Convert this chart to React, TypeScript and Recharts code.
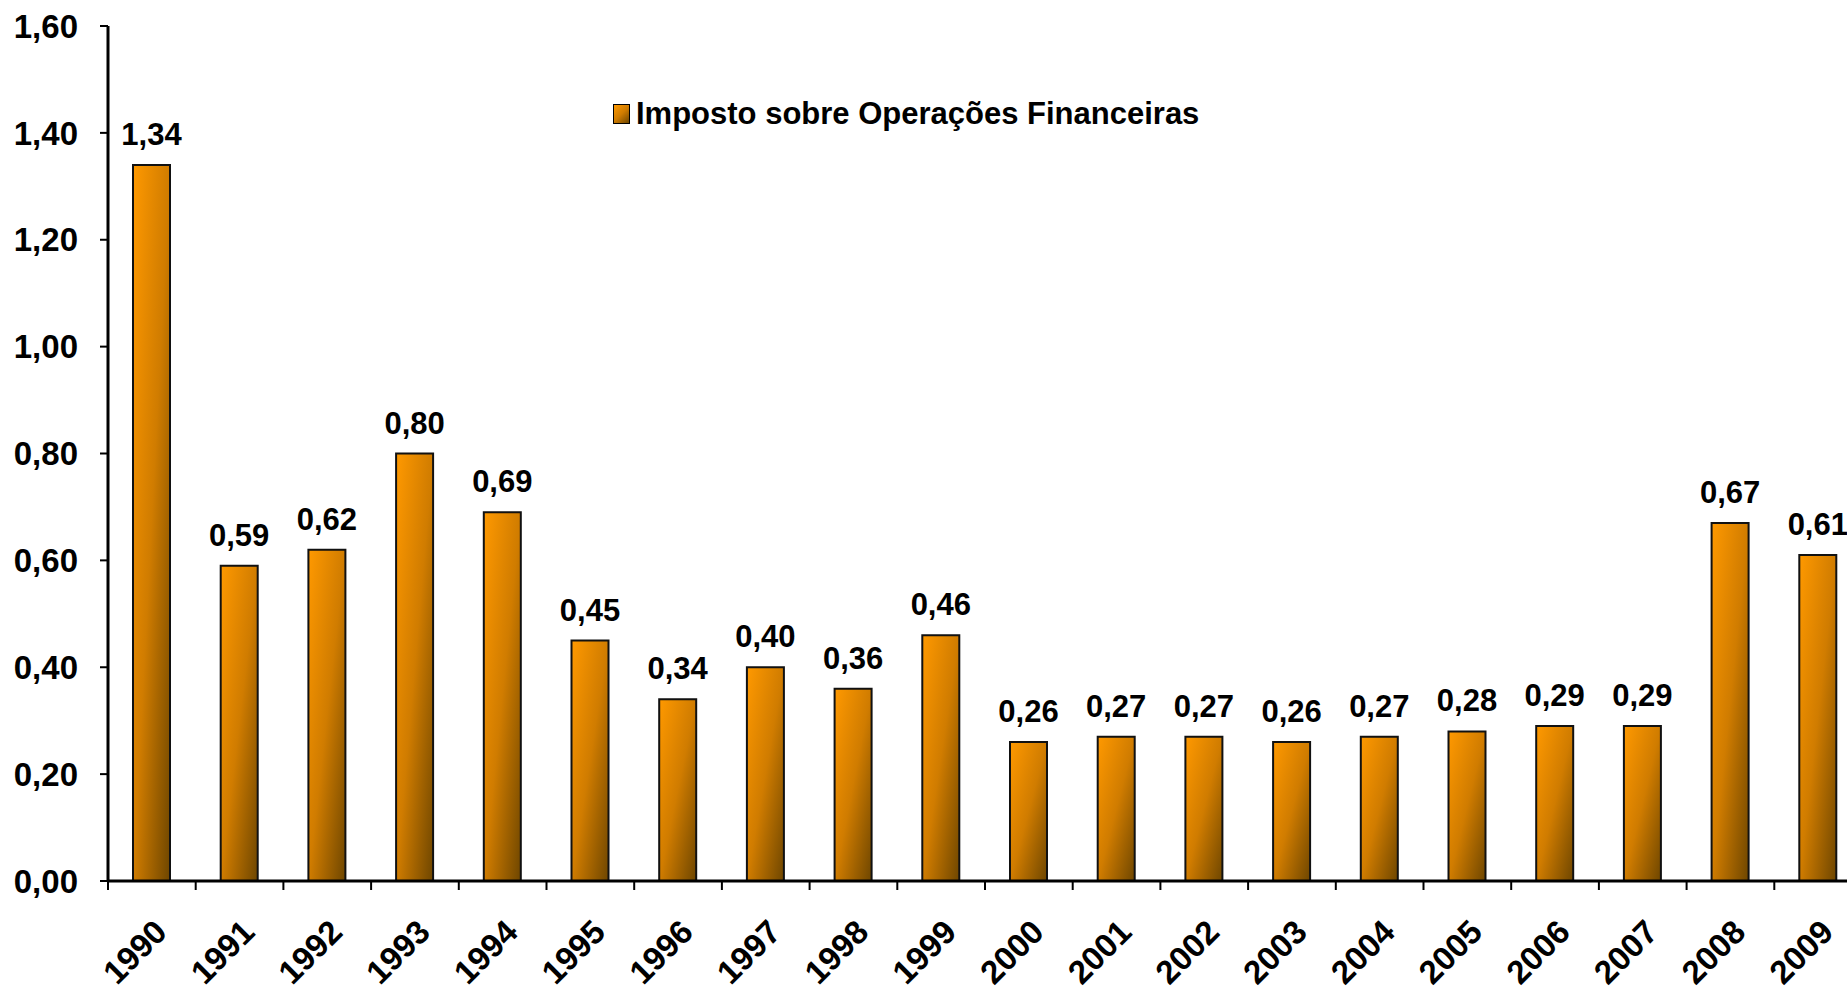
import { BarChart, Bar, XAxis, YAxis, LabelList, Legend } from 'recharts';

const years = [
  '1990', '1991', '1992', '1993', '1994', '1995', '1996', '1997', '1998', '1999',
  '2000', '2001', '2002', '2003', '2004', '2005', '2006', '2007', '2008', '2009',
];
const iofValues = [
  1.34, 0.59, 0.62, 0.8, 0.69, 0.45, 0.34, 0.4, 0.36, 0.46,
  0.26, 0.27, 0.27, 0.26, 0.27, 0.28, 0.29, 0.29, 0.67, 0.61,
];
const yTicks = [0, 0.2, 0.4, 0.6, 0.8, 1.0, 1.2, 1.4, 1.6];
const seriesName = 'Imposto sobre Operações Financeiras';

const data = years.map((year, i) => ({ year, iof: iofValues[i] }));

const FONT = '"Liberation Sans", Arial, sans-serif';
const fmt = (v: number) => v.toFixed(2).replace('.', ',');

function YearTick(props: any) {
  const { x, y, payload } = props;
  const half = payload?.offset ?? 43.85;
  return (
    <g>
      <line x1={x - half} y1={y} x2={x - half} y2={y + 9} stroke="#000" strokeWidth={2} />
      <text
        x={x + 17}
        y={y + 53}
        textAnchor="end"
        transform={`rotate(-45, ${x + 17}, ${y + 53})`}
        fontFamily={FONT}
        fontWeight="bold"
        fontSize={33}
        fill="#000"
      >
        {payload.value}
      </text>
    </g>
  );
}

function LegendBox() {
  return (
    <div style={{ display: 'flex', alignItems: 'center', fontFamily: FONT, fontWeight: 'bold', fontSize: 31, color: '#000', whiteSpace: 'nowrap' }}>
      <span
        style={{
          display: 'inline-block',
          width: 15,
          height: 18,
          border: '1.5px solid #000',
          background: 'linear-gradient(135deg, #ff9900 0%, #d07c00 50%, #6e4600 100%)',
          marginRight: 6,
        }}
      />
      {seriesName}
    </div>
  );
}

export default function App() {
  return (
    <div style={{ position: 'fixed', left: 0, top: 0, width: 1847, height: 990, overflow: 'hidden', background: '#fff' }}>
      <BarChart width={1880} height={990} data={data} margin={{ top: 26, right: 18, bottom: 9, left: 0 }}>
        <defs>
          <linearGradient id="iofFill" x1="0" y1="0" x2="1" y2="1">
            <stop offset="0%" stopColor="#ff9900" />
            <stop offset="50%" stopColor="#d07c00" />
            <stop offset="100%" stopColor="#6e4600" />
          </linearGradient>
        </defs>
        <XAxis
          dataKey="year"
          height={100}
          interval={0}
          axisLine={{ stroke: '#000', strokeWidth: 3 }}
          tickLine={false}
          tickSize={0}
          tickMargin={0}
          tick={<YearTick />}
        />
        <YAxis
          width={108}
          domain={[0, 1.6]}
          ticks={yTicks}
          interval={0}
          tickFormatter={fmt}
          axisLine={{ stroke: '#000', strokeWidth: 3 }}
          tickLine={{ stroke: '#000', strokeWidth: 2 }}
          tickSize={8}
          tickMargin={22}
          tick={{ fill: '#000', fontFamily: FONT, fontWeight: 'bold', fontSize: 33 }}
        />
        <Legend
          layout="vertical"
          align="center"
          verticalAlign="middle"
          content={<LegendBox />}
          wrapperStyle={{ position: 'absolute', top: 96, left: 613, width: 'auto', height: 'auto' }}
        />
        <Bar
          dataKey="iof"
          name={seriesName}
          fill="url(#iofFill)"
          stroke="#111"
          strokeWidth={2}
          barSize={37}
          isAnimationActive={false}
        >
          <LabelList
            dataKey="iof"
            position="top"
            offset={20}
            formatter={(v: any) => fmt(Number(v))}
            style={{ fill: '#000', fontFamily: FONT, fontWeight: 'bold', fontSize: 31 }}
          />
        </Bar>
      </BarChart>
    </div>
  );
}
